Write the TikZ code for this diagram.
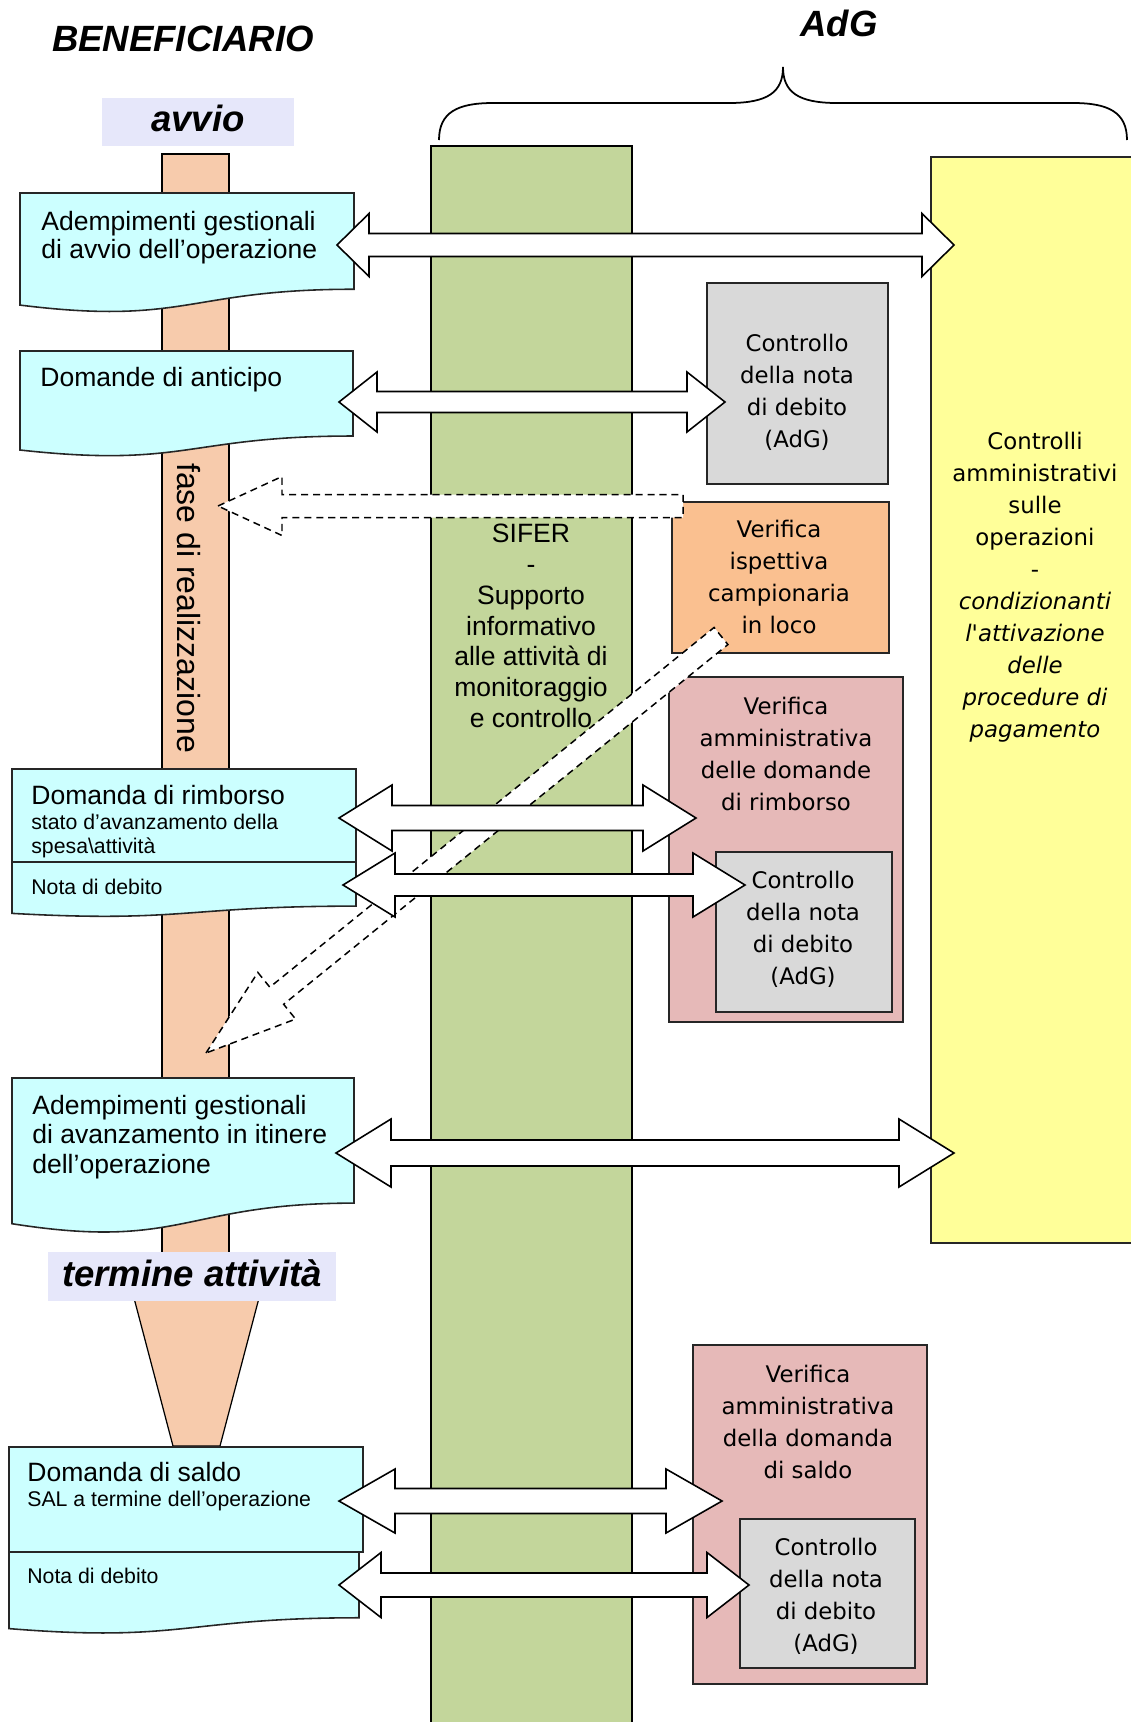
\documentclass[tikz,border=0pt]{standalone}
\usepackage{fontspec}
\setmainfont{Liberation Sans}
\newfontfamily\verdfont{DejaVu Sans}
\usetikzlibrary{calc}

\definecolor{cyanbox}{HTML}{CCFFFF}
\definecolor{peach}{HTML}{F7CBAC}
\definecolor{lavender}{HTML}{E6E7FA}
\definecolor{sifergreen}{HTML}{C3D69B}
\definecolor{paleyellow}{HTML}{FFFF99}
\definecolor{notagrey}{HTML}{D9D9D9}
\definecolor{ispettorange}{HTML}{FAC090}
\definecolor{verpink}{HTML}{E6B9B8}
\definecolor{edge}{HTML}{262626}

\tikzset{
  benbox/.style={draw=edge, fill=cyanbox, line width=0.9pt},
  adgbox/.style={draw=edge, line width=0.75pt},
  peachbar/.style={draw=black, fill=peach, line width=0.7pt},
  blockarrow/.style={draw=black, fill=white, line width=0.9pt, line join=miter},
  dasharrow/.style={draw=black, fill=white, line width=0.85pt, dash pattern=on 4pt off 2.8pt},
  titletxt/.style={inner sep=0pt, font=\bfseries\itshape\fontsize{20.8}{24}\selectfont},
  lefttxt/.style={anchor=west, inner sep=0pt, align=left, font=\fontsize{15.1}{16}\selectfont},
  notetxt/.style={anchor=west, inner sep=0pt, align=left, font=\fontsize{12.1}{13.7}\selectfont},
  sifertxt/.style={inner sep=0pt, align=center, font=\fontsize{15.1}{17.5}\selectfont},
  righttxt/.style={inner sep=0pt, align=center, font=\verdfont\fontsize{13}{18.2}\selectfont}
}

% document shape: left x, right x, top y, height (px)
\newcommand{\docbox}[4]{%
  \draw[benbox] (#1,#3) -- (#2,#3) -- (#2,{#3+0.802*#4})
    .. controls ({(#1+#2)/2},{#3+0.802*#4}) and ({(#1+#2)/2},{#3+1.107*#4}) .. (#1,{#3+0.934*#4}) -- cycle;}

% block arrow with two heads: ends, head length, half head, half shaft (px)
\newcommand{\dblarrow}[5]{%
  \coordinate (#1-hb) at ($(#1)!#3*0.02cm!(#2)$);
  \coordinate (#2-hb) at ($(#2)!#3*0.02cm!(#1)$);
  \draw[blockarrow] (#1)
    -- ($(#1-hb)!#4*0.02cm!90:(#2)$) -- ($(#1-hb)!#5*0.02cm!90:(#2)$)
    -- ($(#2-hb)!#5*0.02cm!-90:(#1)$) -- ($(#2-hb)!#4*0.02cm!-90:(#1)$)
    -- (#2)
    -- ($(#2-hb)!#4*0.02cm!90:(#1)$) -- ($(#2-hb)!#5*0.02cm!90:(#1)$)
    -- ($(#1-hb)!#5*0.02cm!-90:(#2)$) -- ($(#1-hb)!#4*0.02cm!-90:(#2)$)
    -- cycle;}

% block arrow with one head: tail, tip, head length, half head, half shaft (px)
\newcommand{\onearrow}[5]{%
  \coordinate (#2-hb) at ($(#2)!#3*0.02cm!(#1)$);
  \draw[dasharrow] (#2)
    -- ($(#2-hb)!#4*0.02cm!90:(#1)$) -- ($(#2-hb)!#5*0.02cm!90:(#1)$)
    -- ($(#1)!#5*0.02cm!-90:(#2-hb)$) -- ($(#1)!#5*0.02cm!90:(#2-hb)$)
    -- ($(#2-hb)!#5*0.02cm!-90:(#1)$) -- ($(#2-hb)!#4*0.02cm!-90:(#1)$)
    -- cycle;}

\begin{document}
\begin{tikzpicture}[x=0.02cm, y=-0.02cm]
\useasboundingbox (0,0) rectangle (1131,1722);
\clip (0,0) rectangle (1131,1722);

\node[titletxt] (benef) at (183,39) {BENEFICIARIO};
\node[titletxt] (adg) at (839,23) {AdG};
\draw[line width=1pt] (439,140) .. controls (439,112) and (458,103) .. (493,103) -- (729,103)
  .. controls (768,103) and (783,92) .. (783,67) .. controls (783,92) and (798,103) .. (837,103)
  -- (1073,103) .. controls (1108,103) and (1127,112) .. (1127,140);

\draw[peachbar] (162,154) rectangle (229,1280);
\draw[peachbar] (134,1298) -- (259,1298) -- (220,1446) -- (173,1446) -- cycle;
\node[rotate=-90, inner sep=0pt, font=\fontsize{18.2}{20}\selectfont] (fase) at (189,608) {fase di realizzazione};

\draw[line width=0.6pt, fill=sifergreen] (431,1740) -- (431,146) -- (632,146) -- (632,1740);
\node[sifertxt] (sifer) at (531,626) {SIFER\\-\\Supporto\\informativo\\alle attività di\\monitoraggio\\e controllo};

\draw[adgbox, fill=paleyellow] (931,157) rectangle (1150,1243);
\node[righttxt] (controlli) at (1035,587) {Controlli\\amministrativi\\sulle\\operazioni\\-\\\textit{condizionanti}\\\textit{l'attivazione}\\\textit{delle}\\\textit{procedure di}\\\textit{pagamento}};

\draw[adgbox, fill=notagrey] (707,283) rectangle (888,484);
\node[righttxt] (notaAdG1) at (797,392) {Controllo\\della nota\\di debito\\(AdG)};
\draw[adgbox, fill=ispettorange] (672,502) rectangle (889,653);
\node[righttxt] (ispettiva) at (779,577) {Verifica\\ispettiva\\campionaria\\in loco};
\draw[adgbox, fill=verpink] (669,677) rectangle (903,1022);
\node[righttxt] (verRimborso) at (786,754) {Verifica\\amministrativa\\delle domande\\di rimborso};
\draw[adgbox, fill=notagrey] (716,852) rectangle (892,1012);
\node[righttxt] (notaAdG2) at (803,929) {Controllo\\della nota\\di debito\\(AdG)};
\draw[adgbox, fill=verpink] (693,1345) rectangle (927,1684);
\node[righttxt] (verSaldo) at (808,1422) {Verifica\\amministrativa\\della domanda\\di saldo};
\draw[adgbox, fill=notagrey] (740,1519) rectangle (915,1668);
\node[righttxt] (notaAdG3) at (826,1596) {Controllo\\della nota\\di debito\\(AdG)};

\docbox{20}{354}{193}{120}
\node[lefttxt] (adempAvvio) at (41,238) {Adempimenti gestionali\\di avvio dell’operazione};
\docbox{20}{353}{351}{106}
\node[lefttxt] (anticipo) at (40,380) {Domande di anticipo};
\draw[benbox] (12,769) rectangle (356,862);
\docbox{12}{356}{862}{55}
\node[lefttxt] (rimborso) at (31,795) {Domanda di rimborso};
\node[notetxt] (stato) at (31,836) {stato d’avanzamento della\\spesa\textbackslash attività};
\node[notetxt] (nota1) at (31,887) {Nota di debito};
\docbox{12}{354}{1078}{156}
\node[lefttxt, font=\fontsize{15.1}{17}\selectfont] (adempItinere) at (32,1137) {Adempimenti gestionali\\di avanzamento in itinere\\dell’operazione};
\draw[benbox] (9,1447) rectangle (363,1552);
\docbox{9}{359}{1552}{82}
\node[lefttxt] (saldo) at (27,1472) {Domanda di saldo};
\node[notetxt] (salTermine) at (27,1501) {SAL a termine dell’operazione};
\node[notetxt] (nota2) at (27,1576) {Nota di debito};

\fill[lavender] (102,98) rectangle (294,146);
\node[titletxt] (avvio) at (198,118) {avvio};
\fill[lavender] (48,1252) rectangle (336,1301);
\node[titletxt] (termine) at (192,1273) {termine attività};

\coordinate (d1T) at (683,506);
\coordinate (d1H) at (218,506);
\coordinate (d2T) at (721,636);
\coordinate (d2H) at (206,1053);
\onearrow{d1T}{d1H}{64}{29.5}{11.5}
\onearrow{d2T}{d2H}{91}{30}{11}

\coordinate (a1L) at (337,245);
\coordinate (a1R) at (954,245);
\coordinate (a2L) at (339,402);
\coordinate (a2R) at (725,402);
\coordinate (a3L) at (339,818);
\coordinate (a3R) at (696,818);
\coordinate (a4L) at (343,885);
\coordinate (a4R) at (745,885);
\coordinate (a5L) at (336,1153);
\coordinate (a5R) at (954,1153);
\coordinate (a6L) at (339,1501);
\coordinate (a6R) at (722,1501);
\coordinate (a7L) at (339,1585);
\coordinate (a7R) at (749,1585);
\dblarrow{a1L}{a1R}{32}{31.5}{11.5}
\dblarrow{a2L}{a2R}{38}{30}{10.5}
\dblarrow{a3L}{a3R}{53}{33}{12.5}
\dblarrow{a4L}{a4R}{52}{32}{11}
\dblarrow{a5L}{a5R}{55}{34}{13}
\dblarrow{a6L}{a6R}{56}{32}{12.5}
\dblarrow{a7L}{a7R}{42}{32.5}{12}
\end{tikzpicture}
\end{document}
